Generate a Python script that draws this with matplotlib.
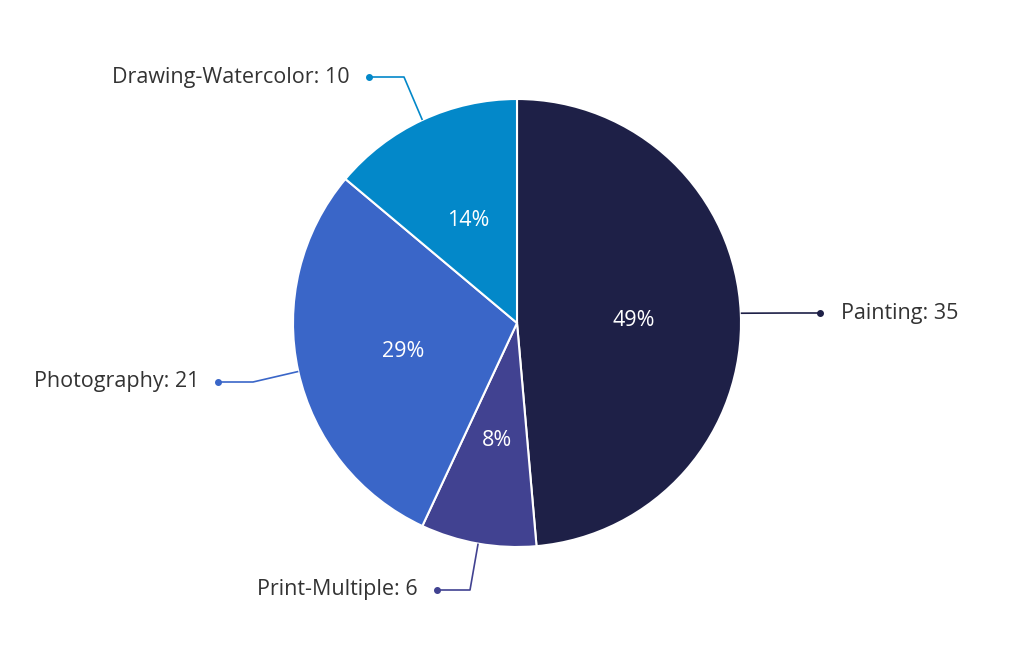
"""
Pie chart: artworks by medium.
"""

import matplotlib.pyplot as plt
import numpy as np

labels = ["Painting", "Print-Multiple", "Photography", "Drawing-Watercolor"]
values = [35, 6, 21, 10]
colors = ["#1e2047", "#414291", "#3a66c8", "#0388c9"]

W, H = 1024, 657
cx, cy, r = 517, H - 323, 224

plt.rcParams["font.family"] = ["Open Sans", "DejaVu Sans"]

fig = plt.figure(figsize=(W / 100, H / 100), dpi=100)
ax = fig.add_axes([0, 0, 1, 1])

wedges, texts, autotexts = ax.pie(
    values, colors=colors, startangle=90, counterclock=False,
    center=(cx, cy), radius=r, frame=True,
    autopct=lambda p: "%d%%" % round(p), pctdistance=0.52,
    wedgeprops=dict(edgecolor="white", linewidth=1.5),
    textprops=dict(color="white", fontsize=15.5))
for t in autotexts:
    x, y = t.get_position()
    t.set_position((x, y - 3))
ax.set_xlim(0, W)
ax.set_ylim(0, H)
ax.set_aspect("equal")
ax.axis("off")

# leader lines: elbow point and dot point, in pixels from top-left
leaders = [
    ((790, 313), (820, 313)),
    ((470, 590), (437, 590)),
    ((253, 382), (218, 382)),
    ((404, 77), (369, 77)),
]

for w, lab, val, col, (elbow, dot) in zip(wedges, labels, values, colors, leaders):
    ang = np.deg2rad((w.theta1 + w.theta2) / 2)
    x0, y0 = cx + r * np.cos(ang), cy + r * np.sin(ang)
    ex, ey = elbow[0], H - elbow[1]
    dx, dy = dot[0], H - dot[1]
    ax.plot([x0, ex, dx], [y0, ey, dy], color=col, lw=1.2,
            solid_capstyle="butt", zorder=3)
    ax.plot(dx, dy, "o", color=col, ms=4, zorder=4)
    if dx > cx:
        ax.text(dx + 21, dy, "%s: %d" % (lab, val), ha="left", va="center",
                fontsize=15.5, color="#333333")
    else:
        ax.text(dx - 19, dy, "%s: %d" % (lab, val), ha="right", va="center",
                fontsize=15.5, color="#333333")

fig.savefig("out.png", dpi=100, facecolor="white")
